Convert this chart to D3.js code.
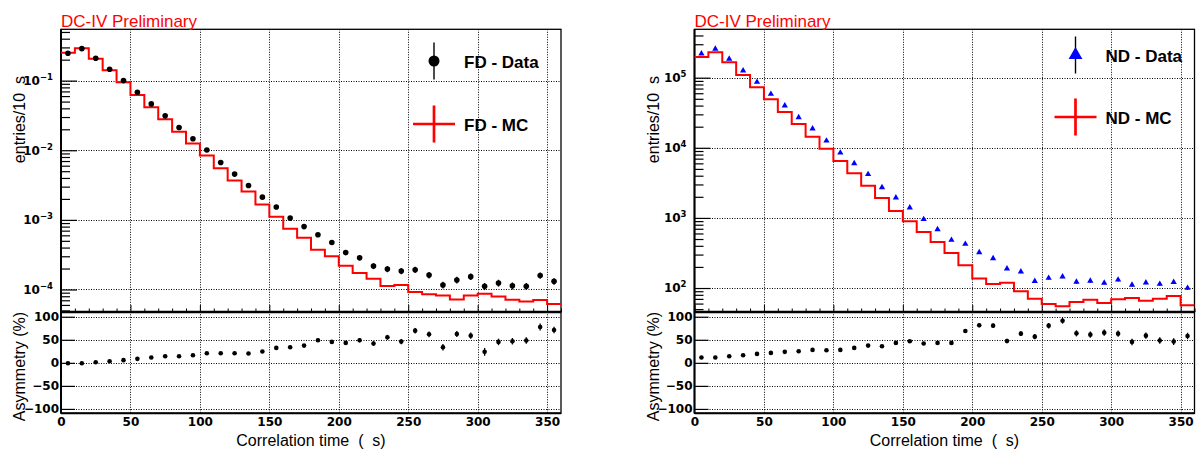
<!DOCTYPE html>
<html>
<head>
<meta charset="utf-8">
<script src="https://cdn.jsdelivr.net/npm/d3@7/dist/d3.min.js"></script>
<style>
body { margin: 0; background: #fff; }
svg { display: block; }
</style>
</head>
<body>
<div id="chart"></div>
<script>
// bin centres (10 us bins)
var binCenters = [5, 15, 25, 35, 45, 55, 65, 75, 85, 95, 105, 115, 125, 135, 145, 155, 165, 175,
                  185, 195, 205, 215, 225, 235, 245, 255, 265, 275, 285, 295, 305, 315, 325, 335, 345, 355];
var binWidth = 10;
var xMajor = [0, 50, 100, 150, 200, 250, 300, 350];
var asymTicks = [-100, -50, 0, 50, 100];

// FD
var fdData = [0.247, 0.288, 0.21, 0.146, 0.1, 0.068, 0.0463, 0.0312, 0.0212, 0.0146,
              0.0101, 0.00667, 0.00454, 0.00312, 0.00212, 0.00153, 0.00106, 0.0008, 0.00061, 0.000474,
              0.00034, 0.000286, 0.000217, 0.000197, 0.000184, 0.000192, 0.000161, 0.000116, 0.000137, 0.000153,
              0.000111, 0.000124, 0.000113, 0.000111, 0.000159, 0.000131];
var fdErr = [0.003, 0.003, 0.0025, 0.002, 0.0015, 0.001, 0.0008, 0.0006, 0.0004, 0.0003,
             0.00025, 0.0002, 0.00015, 0.00012, 0.0001, 0.00008, 0.00006, 0.00005, 0.00004, 0.000035,
             0.00003, 0.000025, 0.000021, 0.00002, 0.000019, 0.00002, 0.000017, 0.000013, 0.000015, 0.000016,
             0.000013, 0.000014, 0.000013, 0.000013, 0.000016, 0.000014];
var fdMC = [0.252, 0.292, 0.207, 0.141, 0.0948, 0.0624, 0.0415, 0.0279, 0.0184, 0.0125,
            0.0084, 0.0055, 0.00367, 0.00255, 0.00166, 0.00111, 0.000744, 0.000553, 0.000372, 0.000299,
            0.000219, 0.000172, 0.000143, 0.000112, 0.000116, 0.000092, 0.0000851, 0.0000823, 0.0000721, 0.0000823,
            0.0000871, 0.0000794, 0.0000711, 0.0000673, 0.0000705, 0.0000617];
var fdAsym = [-1, -1, 1.4, 3.6, 5.8, 8.6, 11.5, 14.4, 14.4, 16.5,
              20.9, 20.9, 20.9, 20.1, 24.5, 32.4, 33.8, 37.4, 49, 45.4,
              43.2, 49, 41.8, 55.4, 46.1, 69.8, 61.9, 33.8, 62.6, 59,
              23.8, 45.4, 46.8, 48.3, 77.8, 71.3];
var fdAsymErr = [0.6, 0.6, 0.7, 0.8, 0.9, 1, 1.1, 1.2, 1.4, 1.5,
                 1.7, 1.9, 2.1, 2.3, 2.6, 2.9, 3.2, 3.5, 3.8, 4.1,
                 4.4, 4.7, 5, 5.3, 5.6, 6, 6.3, 7, 6.6, 6.6,
                 8.5, 7, 7, 7, 7.5, 7];

// ND
var ndData = [2.2e5, 2.57e5, 1.85e5, 1.26e5, 8.68e4, 5.85e4, 3.98e4, 2.72e4, 1.87e4, 1.26e4,
              8500, 6000, 4190, 2730, 1940, 1400, 955, 687, 484, 424,
              323, 265, 189, 171, 125, 139, 145, 122, 126, 118,
              131, 111, 119, 114, 121, 100];
var ndErr = [280, 300, 260, 210, 180, 145, 120, 100, 82, 67,
             55, 46, 39, 31, 26, 22, 18, 16, 13, 12,
             11, 10, 8, 8, 7, 7, 7, 7, 7, 6,
             7, 6, 6, 6, 7, 6];
var ndMC = [1.97e5, 2.3e5, 1.66e5, 1.09e5, 7.3e4, 4.92e4, 3.24e4, 2.19e4, 1.44e4, 9700,
            6480, 4330, 2880, 1920, 1250, 893, 629, 453, 316, 211,
            137, 114, 119, 89.8, 70.3, 59.1, 54.8, 63.1, 68.1, 61.1,
            69, 72, 65.9, 70.3, 76.9, 56.6];
var ndAsym = [11.5, 11.5, 14.4, 16.5, 19.4, 21.6, 23.8, 25.2, 28.1, 27.4,
              28.1, 32.4, 37.4, 36, 43.2, 46.8, 41.8, 43.2, 43.2, 69.1,
              81.4, 80.7, 47.5, 63.3, 56.8, 80.7, 91.4, 64, 61.2, 65.5,
              63.3, 45.4, 59, 48.3, 46.1, 58.3];
var ndAsymErr = [0.5, 0.5, 0.6, 0.7, 0.8, 0.9, 1, 1.1, 1.2, 1.4,
                 1.6, 1.8, 2, 2.3, 2.6, 2.9, 3.2, 3.5, 3.8, 4.1,
                 4.4, 4.7, 5, 5.3, 5.6, 6, 6.3, 6.6, 6.6, 6.6,
                 6.8, 7, 7, 7, 7.2, 7];

var labelFont = "'Liberation Sans', Arial, sans-serif";
var tickFont = "'DejaVu Sans', sans-serif";
var minus = "\u2212";

var svg = d3.select("#chart").append("svg")
  .attr("width", 1197)
  .attr("height", 450)
  .style("background", "#fff");

function make_panel(p) {
  var left = p.left, right = p.left + 500;
  var topY = 29.3, midY = 312, botY = 413.3;
  var g = svg.append("g");

  var x = d3.scaleLinear().domain([0, 360]).range([left, right]);
  var y = d3.scaleLog().domain(p.yDomain).range([midY, topY]);
  var ya = d3.scaleLinear().domain([-109.5, 110.3]).range([botY, midY]);

  var yMajor = y.ticks().filter(function (v) {
    var l = Math.log10(v); return Math.abs(l - Math.round(l)) < 1e-9;
  });
  var yMinor = y.ticks().filter(function (v) { return yMajor.indexOf(v) < 0; });
  var xMinor = x.ticks(36).filter(function (v) { return xMajor.indexOf(v) < 0; });

  // grid
  var grid = g.append("g")
    .attr("stroke", "#000")
    .attr("stroke-width", 1)
    .attr("stroke-dasharray", "1,1.5");
  grid.selectAll(".gx").data(xMajor.slice(1)).enter().append("line")
    .attr("x1", function (d) { return Math.round(x(d)) + 0.5; }).attr("x2", function (d) { return Math.round(x(d)) + 0.5; })
    .attr("y1", topY).attr("y2", botY);
  grid.selectAll(".gy").data(yMajor).enter().append("line")
    .attr("x1", left).attr("x2", right)
    .attr("y1", function (d) { return Math.round(y(d)) + 0.5; }).attr("y2", function (d) { return Math.round(y(d)) + 0.5; });
  grid.selectAll(".ga").data(asymTicks).enter().append("line")
    .attr("x1", left).attr("x2", right)
    .attr("y1", function (d) { return Math.round(ya(d)) + 0.5; }).attr("y2", function (d) { return Math.round(ya(d)) + 0.5; });

  // y axis (log) ticks
  g.append("g").attr("transform", "translate(" + left + ",0)")
    .call(d3.axisLeft(y).tickValues(yMinor).tickSizeInner(-9).tickSizeOuter(0).tickFormat(""))
    .call(function (a) { a.select(".domain").remove(); a.selectAll("line").attr("stroke-width", 1.2); });

  var yAx = g.append("g").attr("transform", "translate(" + left + ",0)")
    .call(d3.axisLeft(y).tickValues(yMajor).tickSizeInner(-16).tickSizeOuter(0).tickPadding(8))
    .call(function (a) { a.select(".domain").remove(); a.selectAll("line").attr("stroke-width", 1.2); });
  yAx.selectAll("text")
    .attr("font-family", tickFont).attr("font-weight", "bold").attr("font-size", 12)
    .each(function (d) {
      var e = Math.round(Math.log10(d));
      var t = d3.select(this).text(null);
      t.append("tspan").text("10");
      t.append("tspan").attr("font-size", 8.5).attr("dy", -5)
        .text(e < 0 ? minus + (-e) : String(e));
    });

  // x ticks on the upper pad
  g.append("g").attr("transform", "translate(0," + midY + ")")
    .call(d3.axisBottom(x).tickValues(xMinor).tickSizeInner(-3.5).tickSizeOuter(0).tickFormat(""))
    .call(function (a) { a.select(".domain").remove(); });
  g.append("g").attr("transform", "translate(0," + midY + ")")
    .call(d3.axisBottom(x).tickValues(xMajor).tickSizeInner(-7).tickSizeOuter(0).tickFormat(""))
    .call(function (a) { a.select(".domain").remove(); });

  // asymmetry axis
  var aAx = g.append("g").attr("transform", "translate(" + left + ",0)")
    .call(d3.axisLeft(ya).tickValues(asymTicks).tickSizeInner(-14).tickSizeOuter(0).tickPadding(2)
      .tickFormat(function (d) { return d < 0 ? minus + (-d) : String(d); }))
    .call(function (a) { a.select(".domain").remove(); a.selectAll("line").attr("stroke-width", 1.2); });
  aAx.selectAll("text").attr("font-family", tickFont).attr("font-weight", "bold").attr("font-size", 12);

  var xAx = g.append("g").attr("transform", "translate(0," + botY + ")")
    .call(d3.axisBottom(x).tickValues(xMajor).tickSize(0).tickPadding(4))
    .call(function (a) { a.select(".domain").remove(); });
  xAx.selectAll("text").attr("font-family", tickFont).attr("font-weight", "bold").attr("font-size", 12);

  // frames
  g.append("rect").attr("x", left).attr("y", topY).attr("width", right - left).attr("height", midY - topY)
    .attr("fill", "none").attr("stroke", "#000").attr("stroke-width", 1.3);
  g.append("rect").attr("x", left).attr("y", midY).attr("width", right - left).attr("height", botY - midY)
    .attr("fill", "none").attr("stroke", "#000").attr("stroke-width", 1.3);
  g.append("line").attr("x1", left).attr("x2", left).attr("y1", topY).attr("y2", botY)
    .attr("stroke", "#000").attr("stroke-width", 2);
  g.append("line").attr("x1", left).attr("x2", right).attr("y1", midY).attr("y2", midY)
    .attr("stroke", "#000").attr("stroke-width", 2.6);
  g.append("line").attr("x1", left).attr("x2", right).attr("y1", botY).attr("y2", botY)
    .attr("stroke", "#000").attr("stroke-width", 2);

  // MC histogram (step)
  var steps = binCenters.map(function (c, i) { return [c - binWidth / 2, p.mc[i]]; });
  steps.push([binCenters[binCenters.length - 1] + binWidth / 2, p.mc[p.mc.length - 1]]);
  g.append("path")
    .datum(steps)
    .attr("fill", "none")
    .attr("stroke", "#ff0000")
    .attr("stroke-width", 2)
    .attr("d", d3.line().curve(d3.curveStepAfter)
      .x(function (d) { return x(d[0]); })
      .y(function (d) { return y(d[1]); }));

  // data error bars + markers
  var pts = binCenters.map(function (c, i) { return { c: c, v: p.data[i], e: p.err[i] }; });
  g.append("g").selectAll("line").data(pts).enter().append("line")
    .attr("x1", function (d) { return x(d.c); }).attr("x2", function (d) { return x(d.c); })
    .attr("y1", function (d) { return y(d.v - d.e); }).attr("y2", function (d) { return y(d.v + d.e); })
    .attr("stroke", "#000").attr("stroke-width", 1.3);
  if (p.marker === "circle") {
    g.append("g").selectAll("circle").data(pts).enter().append("circle")
      .attr("cx", function (d) { return x(d.c); })
      .attr("cy", function (d) { return y(d.v); })
      .attr("r", 2.8).attr("fill", "#000");
  } else {
    g.append("g").selectAll("path").data(pts).enter().append("path")
      .attr("d", d3.symbol(d3.symbolTriangle, 17))
      .attr("transform", function (d) { return "translate(" + x(d.c) + "," + y(d.v) + ")"; })
      .attr("fill", "#0000ff");
  }

  // asymmetry points
  var apts = binCenters.map(function (c, i) { return { c: c, v: p.asym[i], e: p.asymErr[i] }; });
  g.append("g").selectAll("line").data(apts).enter().append("line")
    .attr("x1", function (d) { return x(d.c); }).attr("x2", function (d) { return x(d.c); })
    .attr("y1", function (d) { return ya(d.v - d.e); }).attr("y2", function (d) { return ya(d.v + d.e); })
    .attr("stroke", "#000").attr("stroke-width", 1.3);
  g.append("g").selectAll("circle").data(apts).enter().append("circle")
    .attr("cx", function (d) { return x(d.c); })
    .attr("cy", function (d) { return ya(d.v); })
    .attr("r", 2.3).attr("fill", "#000");

  // legend
  var lx = left + p.legendX, tx = left + p.legendTextX;
  g.append("line").attr("x1", lx).attr("x2", lx)
    .attr("y1", p.legendY[0] - 18.5).attr("y2", p.legendY[0] + 18.5)
    .attr("stroke", "#000").attr("stroke-width", 1.4);
  if (p.marker === "circle") {
    g.append("circle").attr("cx", lx).attr("cy", p.legendY[0]).attr("r", 5.5).attr("fill", "#000");
  } else {
    g.append("path").attr("d", d3.symbol(d3.symbolTriangle, 82))
      .attr("transform", "translate(" + lx + "," + p.legendY[0] + ")").attr("fill", "#0000ff");
  }
  g.append("line").attr("x1", lx - 21).attr("x2", lx + 21)
    .attr("y1", p.legendY[1]).attr("y2", p.legendY[1])
    .attr("stroke", "#ff0000").attr("stroke-width", 2.7);
  g.append("line").attr("x1", lx).attr("x2", lx)
    .attr("y1", p.legendY[1] - 18.5).attr("y2", p.legendY[1] + 18.5)
    .attr("stroke", "#ff0000").attr("stroke-width", 2.7);
  g.selectAll(".legtext").data(p.legend).enter().append("text")
    .attr("x", tx)
    .attr("y", function (d, i) { return p.legendY[i] + 0.5; })
    .attr("dy", "0.36em")
    .attr("font-family", labelFont).attr("font-weight", "bold").attr("font-size", 17)
    .text(function (d) { return d; });

  // titles
  g.append("text").attr("x", left).attr("y", 27)
    .attr("font-family", labelFont).attr("font-size", 17).attr("fill", "#ff0000")
    .text("DC-IV Preliminary");
  g.append("text").attr("x", (left + right) / 2).attr("y", 445.5)
    .attr("text-anchor", "middle")
    .attr("font-family", labelFont).attr("font-size", 16)
    .text("Correlation time\u00a0\u00a0(\u00a0\u00a0s)");
  g.append("text")
    .attr("transform", "translate(" + (left - 36) + ",76) rotate(-90)")
    .attr("text-anchor", "end")
    .attr("font-family", labelFont).attr("font-size", 16)
    .text("entries/10\u00a0\u00a0s");
  g.append("text")
    .attr("transform", "translate(" + (left - 36) + ",366.5) rotate(-90)")
    .attr("text-anchor", "middle")
    .attr("font-family", labelFont).attr("font-size", 16)
    .text("Asymmetry (%)");
}

make_panel({
  left: 61, yDomain: [4.75e-5, 0.546],
  data: fdData, err: fdErr, mc: fdMC, asym: fdAsym, asymErr: fdAsymErr,
  marker: "circle", legend: ["FD - Data", "FD - MC"],
  legendX: 373, legendTextX: 403, legendY: [61, 124]
});
make_panel({
  left: 694.5, yDomain: [45.5, 4.9e5],
  data: ndData, err: ndErr, mc: ndMC, asym: ndAsym, asymErr: ndAsymErr,
  marker: "triangle", legend: ["ND - Data", "ND - MC"],
  legendX: 381, legendTextX: 411, legendY: [55, 117]
});
</script>
</body>
</html>
